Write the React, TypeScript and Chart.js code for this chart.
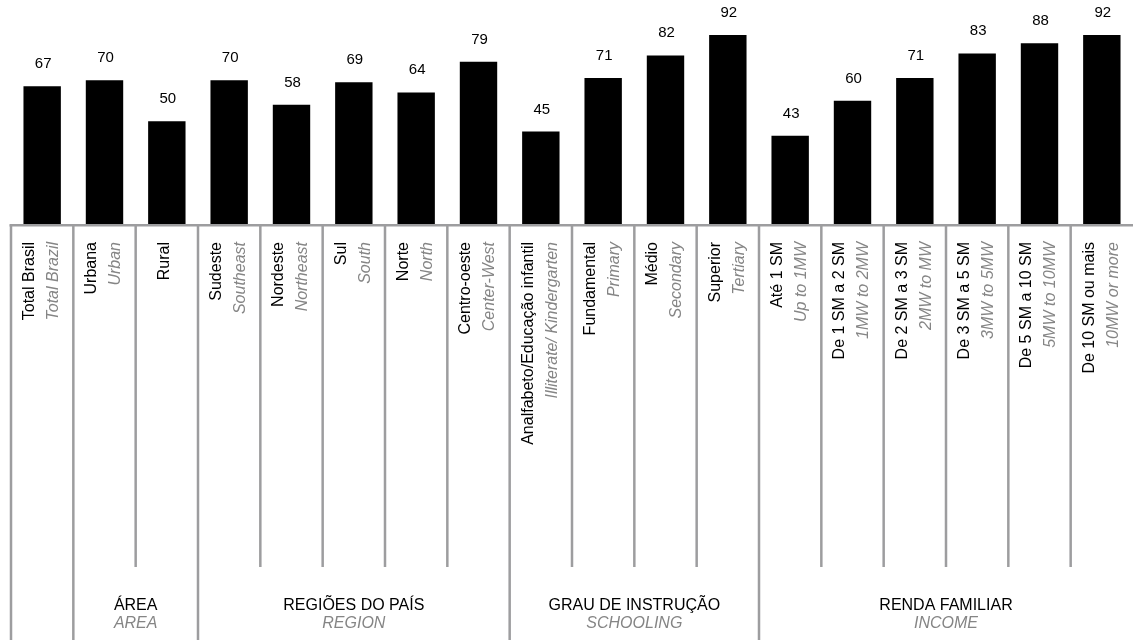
import React, { useEffect, useRef } from "react";
import { Chart, registerables } from "chart.js";

Chart.register(...registerables);

const categoriesPt: string[] = [
  "Total Brasil",
  "Urbana",
  "Rural",
  "Sudeste",
  "Nordeste",
  "Sul",
  "Norte",
  "Centro-oeste",
  "Analfabeto/Educação infantil",
  "Fundamental",
  "Médio",
  "Superior",
  "Até 1 SM",
  "De 1 SM a 2 SM",
  "De 2 SM a 3 SM",
  "De 3 SM a 5 SM",
  "De 5 SM a 10 SM",
  "De 10 SM ou mais",
];

const categoriesEn: string[] = [
  "Total Brazil",
  "Urban",
  "",
  "Southeast",
  "Northeast",
  "South",
  "North",
  "Center-West",
  "Illiterate/ Kindergarten",
  "Primary",
  "Secondary",
  "Tertiary",
  "Up to 1MW",
  "1MW to 2MW",
  "2MW to MW",
  "3MW to 5MW",
  "5MW to 10MW",
  "10MW or more",
];

const values: number[] = [67, 70, 50, 70, 58, 69, 64, 79, 45, 71, 82, 92, 43, 60, 71, 83, 88, 92];

const groupLabelsPt: string[] = ["", "ÁREA", "REGIÕES DO PAÍS", "GRAU DE INSTRUÇÃO", "RENDA FAMILIAR"];
const groupLabelsEn: string[] = ["", "AREA", "REGION", "SCHOOLING", "INCOME"];
const groupStarts: number[] = [0, 1, 3, 8, 12];
const groupEnds: number[] = [0, 2, 7, 11, 17];

const FONT = "'Liberation Sans', Arial, Helvetica, sans-serif";
const LINE_COLOR = "#9d9d9f";
const EN_COLOR = "#858585";

const overlayPlugin = {
  id: "overlay",
  afterDatasetsDraw(chart: any) {
    const ctx: CanvasRenderingContext2D = chart.ctx;
    const xs = chart.scales.x;
    const area = chart.chartArea;
    const n = categoriesPt.length;
    const slot = (area.right - area.left) / n;
    const axisY = area.bottom + 1.3;
    const innerBottom = 567;
    const fullBottom = chart.height;

    ctx.save();
    // value labels
    const meta = chart.getDatasetMeta(0);
    ctx.font = `15px ${FONT}`;
    ctx.fillStyle = "#000";
    ctx.textAlign = "center";
    ctx.textBaseline = "alphabetic";
    meta.data.forEach((el: any, i: number) => {
      ctx.fillText(String(values[i]), el.x + 1, el.y - 18);
    });

    // separators
    ctx.strokeStyle = LINE_COLOR;
    ctx.lineWidth = 2.5;
    const fullBoundaries = new Set<number>();
    groupStarts.forEach((s) => fullBoundaries.add(s));
    for (let b = 0; b < n; b++) {
      const x = xs.getPixelForValue(b) - slot / 2;
      ctx.beginPath();
      ctx.moveTo(x, axisY);
      ctx.lineTo(x, fullBoundaries.has(b) ? fullBottom : innerBottom);
      ctx.stroke();
    }
    // axis line
    ctx.beginPath();
    ctx.moveTo(area.left - 1.5, axisY);
    ctx.lineTo(chart.width, axisY);
    ctx.stroke();

    // rotated category labels
    ctx.font = `16px ${FONT}`;
    ctx.textAlign = "right";
    ctx.textBaseline = "middle";
    for (let i = 0; i < n; i++) {
      const cx = xs.getPixelForValue(i);
      ctx.save();
      ctx.translate(cx, 242);
      ctx.rotate(-Math.PI / 2);
      const en = categoriesEn[i];
      if (en) {
        ctx.font = `16px ${FONT}`;
        ctx.fillStyle = "#000";
        ctx.fillText(categoriesPt[i], 0, -12.5);
        ctx.font = `italic 16px ${FONT}`;
        ctx.fillStyle = EN_COLOR;
        ctx.fillText(en, 0, 11.5);
      } else {
        ctx.font = `16px ${FONT}`;
        ctx.fillStyle = "#000";
        ctx.fillText(categoriesPt[i], 0, -2.5);
      }
      ctx.restore();
    }

    // group labels
    ctx.textAlign = "center";
    ctx.textBaseline = "middle";
    for (let g = 0; g < groupStarts.length; g++) {
      if (!groupLabelsPt[g]) continue;
      const x0 = xs.getPixelForValue(groupStarts[g]) - slot / 2;
      const x1 = xs.getPixelForValue(groupEnds[g]) + slot / 2;
      const cx = (x0 + x1) / 2;
      ctx.font = `16px ${FONT}`;
      ctx.fillStyle = "#000";
      ctx.fillText(groupLabelsPt[g], cx, 606);
      ctx.font = `italic 16px ${FONT}`;
      ctx.fillStyle = EN_COLOR;
      ctx.fillText(groupLabelsEn[g], cx, 624);
    }
    ctx.restore();
  },
};

export default function App() {
  const canvasRef = useRef<HTMLCanvasElement | null>(null);

  useEffect(() => {
    if (!canvasRef.current) return;
    const chart = new Chart(canvasRef.current, {
      type: "bar",
      data: {
        labels: categoriesPt,
        datasets: [
          {
            data: values,
            backgroundColor: "#000000",
            borderWidth: 0,
            barPercentage: 0.6,
            categoryPercentage: 1.0,
          },
        ],
      },
      options: {
        animation: false,
        responsive: false,
        devicePixelRatio: 1,
        events: [],
        layout: { padding: { left: 11, right: 0, top: 0, bottom: 640 - 224 } },
        plugins: {
          legend: { display: false },
          tooltip: { enabled: false },
          title: { display: false },
        },
        scales: {
          x: { display: false, offset: true },
          y: { display: false, min: 0, max: 109 },
        },
      },
      plugins: [overlayPlugin],
    });
    return () => chart.destroy();
  }, []);

  return (
    <div style={{ position: "fixed", left: 0, top: 0, width: 1133, height: 640, background: "#fff" }}>
      <canvas ref={canvasRef} width={1133} height={640} style={{ display: "block" }} />
    </div>
  );
}
